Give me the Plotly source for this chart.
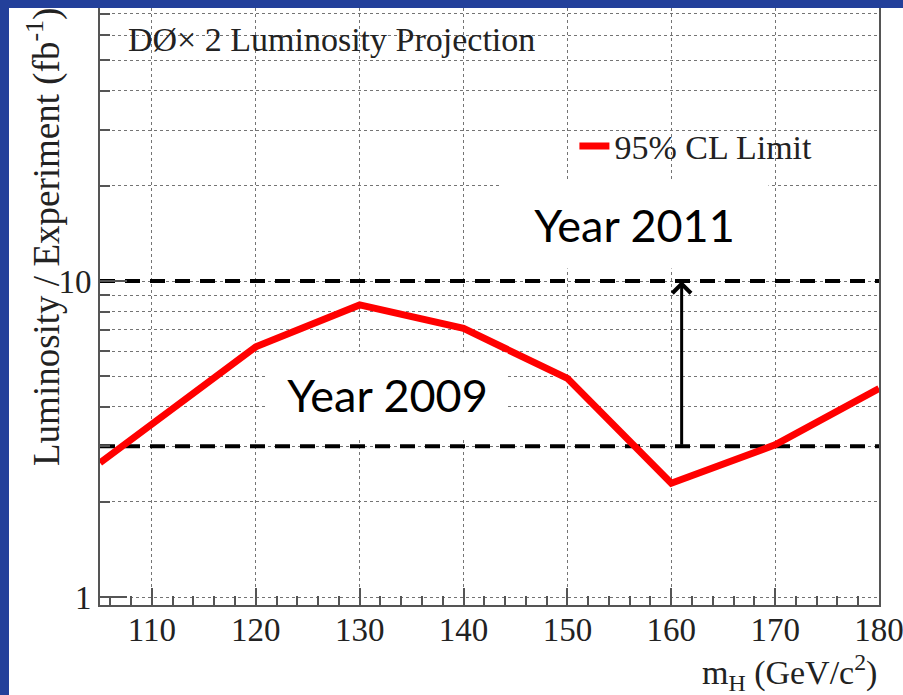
import numpy as np
import plotly.graph_objects as go

# ---- data ----
mass = [105, 120, 130, 140, 150, 160, 170, 180]
limit_lumi = [2.66, 6.19, 8.4, 7.08, 4.92, 2.29, 3.03, 4.57]
lumi_2009 = 3
lumi_2011 = 10
x_ticks = [110, 120, 130, 140, 150, 160, 170, 180]
y_major = [1, 10]
y_minor = [2, 3, 4, 5, 6, 7, 8, 9, 20, 30, 40, 50, 60, 70]
arrow_mass = 161

SERIF = "Liberation Serif, Times New Roman, serif"
SANS = "Lato, Open Sans, sans-serif"
BLUE = "#23409a"
GRID = "#747474"

fig = go.Figure()

for lvl in (lumi_2009, lumi_2011):
    fig.add_trace(go.Scatter(
        x=[mass[0], mass[-1]], y=[lvl, lvl], mode="lines",
        line=dict(color="black", width=4, dash="15px,10px"),
        showlegend=False, hoverinfo="skip"))

fig.add_trace(go.Scatter(
    x=mass, y=limit_lumi, mode="lines", name="95% CL Limit",
    line=dict(color="#ff0000", width=7)))

fig.update_layout(
    width=903, height=695, autosize=False,
    margin=dict(l=100, r=24, t=8, b=90),
    paper_bgcolor="white", plot_bgcolor="white",
    showlegend=True,
    legend=dict(x=0.609, y=0.768, xanchor="left", yanchor="middle",
                bgcolor="rgba(0,0,0,0)", font=dict(family=SERIF, size=34, color="#222")),
)

fig.update_xaxes(
    range=[105, 180], tickvals=x_ticks, ticktext=[str(v) for v in x_ticks],
    automargin=False,
    ticks="inside", ticklen=17, tickwidth=1.5, tickcolor="#555",
    showline=True, linecolor="#555", linewidth=2, mirror=False,
    showgrid=True, gridcolor=GRID, griddash="dot", gridwidth=1,
    tickfont=dict(family=SERIF, size=33, color="#222"),
    ticklabeloverflow="allow", ticklabelstandoff=-6,
    minor=dict(dtick=2, tick0=104, ticks="inside", ticklen=9, tickcolor="#555", showgrid=False),
    zeroline=False,
)

fig.update_yaxes(
    type="log", range=[-0.0253, 1.864],
    tickvals=y_major, ticktext=[str(v) for v in y_major],
    automargin=False,
    ticks="inside", ticklen=27, tickwidth=2, tickcolor="#555",
    showline=True, linecolor="#555", linewidth=2, mirror=True,
    showgrid=True, gridcolor=GRID, griddash="dot", gridwidth=1,
    tickfont=dict(family=SERIF, size=33, color="#222"),
    ticklabeloverflow="allow",
    minor=dict(tickmode="array", tickvals=y_minor, ticks="inside", ticklen=10,
               tickcolor="#555", showgrid=True, gridcolor=GRID, griddash="dot", gridwidth=1),
    zeroline=False,
)

# Year labels (white boxes hide grid)
fig.add_annotation(x=156.5, y=1.177, xref="x", yref="y", text="Year 2011", showarrow=False,
                   font=dict(family=SANS, size=45, color="black"), bgcolor="white",
                   width=265, height=84)
fig.add_annotation(x=132.7, y=0.639, xref="x", yref="y", text="Year 2009", showarrow=False,
                   font=dict(family=SANS, size=45, color="black"), bgcolor="white",
                   width=237, height=82)

# Arrow from 2009 to 2011 level
fig.add_annotation(x=arrow_mass, y=np.log10(lumi_2011), ax=arrow_mass, ay=np.log10(lumi_2009),
                   xref="x", yref="y", axref="x", ayref="y", text="", showarrow=True,
                   arrowhead=4, arrowsize=1.2, arrowwidth=3, arrowcolor="black")

# Top-left label
fig.add_annotation(x=(126 - 100) / 779, y=(605 - 40) / 597, xref="paper", yref="paper",
                   xanchor="left", yanchor="middle", showarrow=False,
                   text="DØ× 2 Luminosity Projection",
                   font=dict(family=SERIF, size=34, color="#222"))

# Axis titles
fig.add_annotation(x=1.0, y=(605 - 672) / 597, xref="paper", yref="paper",
                   xanchor="right", yanchor="middle", showarrow=False,
                   text="m<sub>H</sub> (GeV/c<sup>2</sup>)",
                   font=dict(family=SERIF, size=34, color="#222"))
fig.add_annotation(x=(44 - 100) / 779, y=(605 - 468) / 597, xref="paper", yref="paper",
                   xanchor="center", yanchor="bottom", showarrow=False, textangle=-90,
                   text="Luminosity / Experiment (fb<sup>-1</sup>)",
                   font=dict(family=SERIF, size=37, color="#222"))

# Blue slide border (top and left)
fig.add_shape(type="rect", xref="paper", yref="paper", x0=-0.13, x1=1.04,
              y0=1.0, y1=1.02, fillcolor=BLUE, line=dict(width=0), layer="above")
fig.add_shape(type="rect", xref="paper", yref="paper", x0=-0.13, x1=(9 - 100) / 779,
              y0=-0.16, y1=1.02, fillcolor=BLUE, line=dict(width=0), layer="above")

post = (
    "document.documentElement.style.overflow='hidden';"
    "document.body.style.overflow='hidden';"
    "document.body.style.margin='0px';"
)

fig.write_html(
    "out.html",
    config={"displayModeBar": False, "responsive": False},
    post_script=post,
)
